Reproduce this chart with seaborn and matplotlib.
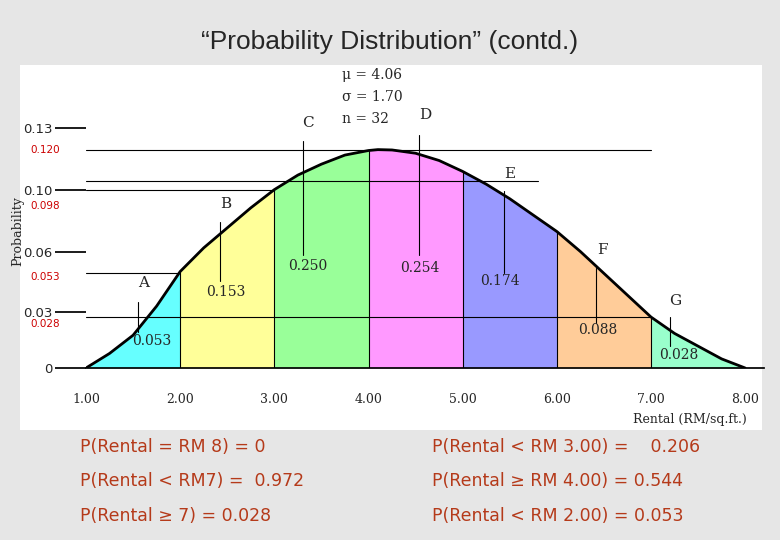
import numpy as np
import matplotlib
matplotlib.use("Agg")
import matplotlib.pyplot as plt
import seaborn as sns

sns.set_theme(style="white")
plt.rcParams['font.family'] = ['DejaVu Sans']

# curve
cx = [1.0,1.25,1.5,1.75,2.0,2.25,2.5,2.75,3.0,3.25,3.5,3.75,4.0,4.1,4.25,4.5,4.75,5.0,5.25,5.5,5.75,6.0,6.25,6.5,6.75,7.0,7.25,7.5,7.75,8.0]
cy = [0.0,0.008,0.018,0.034,0.053,0.066,0.077,0.088,0.098,0.106,0.112,0.117,0.1195,0.120,0.1198,0.118,0.114,0.108,0.101,0.093,0.084,0.075,0.064,0.052,0.040,0.028,0.019,0.012,0.005,0.0]
bounds = [1, 2, 3, 4, 5, 6, 7, 8]
fills = ['#66ffff', '#ffff99', '#99ff99', '#ff99ff', '#9999ff', '#ffcc99', '#99ffcc']
letters = ['A', 'B', 'C', 'D', 'E', 'F', 'G']
probs = ['0.053', '0.153', '0.250', '0.254', '0.174', '0.088', '0.028']
xticks = [1, 2, 3, 4, 5, 6, 7, 8]
ytick_pos = [0, 0.031, 0.064, 0.098, 0.132]
ytick_lab = ['0', '0.03', '0.06', '0.10', '0.13']
red_pos = [0.120, 0.089, 0.050, 0.024]
red_lab = ['0.120', '0.098', '0.053', '0.028']

fig = plt.figure(figsize=(7.8, 5.4), dpi=100)
fig.patch.set_facecolor('#e6e6e6')
bg = fig.add_axes([20/780, 1-430/540, 742/780, 365/540], zorder=-5)
bg.set_facecolor('white')
bg.set_xticks([]); bg.set_yticks([])
for s in bg.spines.values():
    s.set_visible(False)
fig.text(0.5, 1-42/540, '“Probability Distribution” (contd.)', ha='center', va='center', fontsize=19,
         family=['Liberation Sans'])

ax = fig.add_axes([86/780, 1-368/540, 678/780, 273/540])
ax.set_facecolor('none')
xx = np.linspace(1, 8, 701)
yy = np.interp(xx, cx, cy)
for i in range(7):
    m = (xx >= bounds[i]) & (xx <= bounds[i+1])
    ax.fill_between(xx[m], 0, yy[m], color=fills[i], lw=0)
for b in bounds[1:-1]:
    ax.plot([b, b], [0, np.interp(b, cx, cy)], color='black', lw=0.8)
sns.lineplot(x=cx, y=cy, ax=ax, color='black', lw=2)

for y, xe in [(0.120, 7.0), (0.103, 5.8), (0.098, 3.0), (0.052, 2.0), (0.028, 7.0)]:
    ax.plot([1, xe], [y, y], color='black', lw=0.8)

ann = [(1.61, 0.043, 0.036, 0.020, 1.70, 0.015), (2.48, 0.086, 0.080, 0.048, 2.48, 0.042),
       (3.36, 0.131, 0.125, 0.062, 3.36, 0.056), (4.60, 0.135, 0.128, 0.062, 4.55, 0.055),
       (5.50, 0.103, 0.097, 0.052, 5.40, 0.048), (6.48, 0.061, 0.055, 0.025, 6.43, 0.021),
       (7.26, 0.033, 0.028, 0.012, 7.29, 0.007)]
for i, (lx, ly, y0, y1, px, py) in enumerate(ann):
    ax.text(lx, ly, letters[i], ha='center', va='bottom', fontsize=11, family='DejaVu Serif')
    ax.plot([lx - 0.06, lx - 0.06], [y0, y1], color='black', lw=0.8)
    ax.text(px, py, probs[i], ha='center', va='center', fontsize=10, family='DejaVu Serif')

ax.set_xlim(1, 8.2)
ax.set_ylim(0, 0.15)
ax.set_xticks(xticks)
ax.set_xticklabels([f'{v:.2f}' for v in xticks], family='DejaVu Serif', fontsize=9)
ax.set_yticks(ytick_pos)
ax.set_yticklabels(ytick_lab, fontsize=9.5)
ax.tick_params(axis='y', length=22, pad=2, direction='out', left=True, color='black')
ax.tick_params(axis='x', length=0, pad=18)
for s in ['top', 'right', 'left']:
    ax.spines[s].set_visible(False)
ax.spines['bottom'].set_color('black')
for p, l in zip(red_pos, red_lab):
    ax.text(-0.06, p, l, color='#cc0000', fontsize=7.5, ha='center', va='center',
            transform=ax.get_yaxis_transform())
ax.text(-0.1, 0.5, 'Probability', rotation=90, ha='center', va='center', transform=ax.transAxes,
        family='DejaVu Serif', fontsize=9)
fig.text(690/780, 1-420/540, 'Rental (RM/sq.ft.)', ha='center', va='center', family='DejaVu Serif', fontsize=9)

for i, t in enumerate(['μ = 4.06', 'σ = 1.70', 'n = 32']):
    fig.text(342/780, 1-(75+22*i)/540, t, ha='left', va='center', family='DejaVu Serif', fontsize=10)

col = '#b53a1a'
left = ['P(Rental = RM 8) = 0', 'P(Rental < RM7) =  0.972', 'P(Rental ≥ 7) = 0.028']
right = ['P(Rental < RM 3.00) =    0.206', 'P(Rental ≥ RM 4.00) = 0.544', 'P(Rental < RM 2.00) = 0.053']
for i, (a, b) in enumerate(zip(left, right)):
    y = 1 - (447 + 34.5*i)/540
    fig.text(80/780, y, a, color=col, fontsize=12.5, va='center')
    fig.text(432/780, y, b, color=col, fontsize=12.5, va='center')

fig.savefig('out.png', dpi=100)
